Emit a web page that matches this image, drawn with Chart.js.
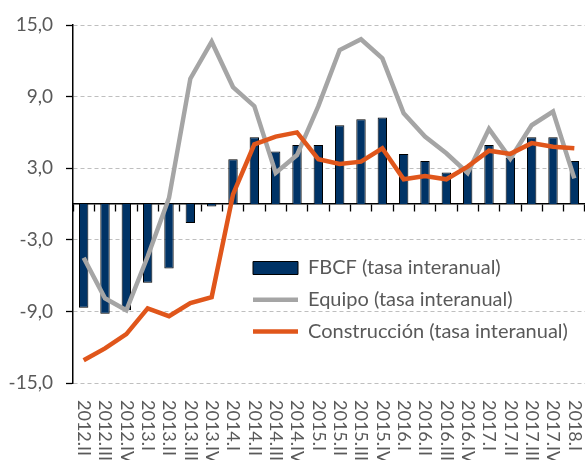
<!DOCTYPE html>
<html><head><meta charset="utf-8">
<script src="https://cdn.jsdelivr.net/npm/chart.js@4.4.0/dist/chart.umd.min.js"></script>
<style>html,body{margin:0;padding:0;background:#fff;overflow:hidden}#wrap{width:585px;height:460px}</style>
</head><body><div id="wrap"><canvas id="c" width="585" height="460"></canvas></div>
<script>
const categories = ['2012.II','2012.III','2012.IV','2013.I','2013.II','2013.III','2013.IV','2014.I','2014.II','2014.III','2014.IV','2015.I','2015.II','2015.III','2015.IV','2016.I','2016.II','2016.III','2016.IV','2017.I','2017.II','2017.III','2017.IV','2018.I'];
const fbcf = [-8.7,-9.2,-8.9,-6.6,-5.4,-1.6,-0.2,3.75,5.6,4.4,4.95,4.95,6.6,7.1,7.25,4.2,3.6,2.65,3.0,4.95,3.9,5.6,5.6,3.6];
const equipo = [-4.5,-7.9,-8.9,-4.4,0.5,10.5,13.6,9.8,8.2,2.6,4.1,8.2,12.9,13.8,12.2,7.6,5.65,4.25,2.6,6.3,3.8,6.6,7.75,2.15];
const construccion = [-13.1,-12.1,-10.9,-8.75,-9.4,-8.3,-7.8,0.8,5.0,5.65,6.0,3.75,3.36,3.55,4.67,2.07,2.35,2.07,3.13,4.47,4.2,5.1,4.8,4.67];
const yTicks = [-15,-9,-3,3,9,15];
const seriesNames = ['FBCF (tasa interanual)','Equipo (tasa interanual)','Construcción (tasa interanual)'];

const FONT = 'Lato, "Liberation Sans", sans-serif';
const TXT = '#595959';
const NAVY = '#003366', GREY = '#A5A5A5', ORANGE = '#E0561B';

const xLabelPlugin = {
  id: 'xLabels',
  afterDraw(chart) {
    const s = chart.scales.x, ctx = chart.ctx;
    ctx.save();
    ctx.font = '18px ' + FONT;
    ctx.fillStyle = TXT;
    ctx.textAlign = 'left';
    ctx.textBaseline = 'middle';
    const y0 = chart.chartArea.bottom + 17;
    categories.forEach((lab, i) => {
      ctx.save();
      ctx.translate(s.getPixelForValue(i), y0);
      ctx.rotate(Math.PI / 2);
      ctx.fillText(lab, 0, 0);
      ctx.restore();
    });
    ctx.restore();
  }
};

const legendPlace = {
  id: 'legendPlace',
  afterLayout(chart) {
    const lg = chart.legend;
    if (!lg) return;
    const pad = lg.options.labels.padding;
    lg.left = 253 - pad;
    lg.top = 258 - pad;
    lg.right = chart.width;
    lg.bottom = chart.height;
    lg.width = lg.right - lg.left;
    lg.height = lg.bottom - lg.top;
  }
};

new Chart(document.getElementById('c'), {
  type: 'bar',
  data: {
    labels: categories,
    datasets: [
      { type: 'bar', label: seriesNames[0], data: fbcf, backgroundColor: NAVY, borderColor: '#000', borderWidth: 1,
        barPercentage: 0.44, categoryPercentage: 1, order: 3, pointStyle: 'rect' },
      { type: 'line', label: seriesNames[1], data: equipo, borderColor: GREY, borderWidth: 4.5, pointRadius: 0,
        pointStyle: 'line', pointBorderColor: GREY, pointBackgroundColor: GREY, pointBorderWidth: 4.5, tension: 0, order: 2 },
      { type: 'line', label: seriesNames[2], data: construccion, borderColor: ORANGE, borderWidth: 4.5, pointRadius: 0,
        pointStyle: 'line', pointBorderColor: ORANGE, pointBackgroundColor: ORANGE, pointBorderWidth: 4.5, tension: 0, order: 1 }
    ]
  },
  options: {
    responsive: false,
    animation: false,
    devicePixelRatio: 1,
    layout: { padding: { top: 25, bottom: 77, left: 0, right: 0 } },
    plugins: {
      tooltip: { enabled: false },
      legend: {
        position: 'chartArea',
        align: 'start',
        labels: {
          usePointStyle: true,
          pointStyleWidth: 45,
          boxHeight: 13,
          padding: 11.7,
          color: TXT,
          font: { family: FONT, size: 20 },
          sort: (a, b) => a.datasetIndex - b.datasetIndex
        }
      }
    },
    scales: {
      x: {
        type: 'category',
        position: { y: 0 },
        offset: true,
        ticks: { display: false },
        grid: { offset: true, drawOnChartArea: false, drawTicks: true, tickLength: 7, tickColor: '#000', tickWidth: 1.3 },
        border: { color: '#000', width: 1.5 }
      },
      y: {
        min: -15, max: 15,
        afterBuildTicks: s => { s.ticks = yTicks.map(v => ({ value: v })); },
        afterFit: s => { s.width = 73; },
        ticks: {
          callback: v => v.toFixed(1).replace('.', ','),
          color: TXT, font: { family: FONT, size: 19 }, padding: 13
        },
        grid: { color: '#BFBFBF', lineWidth: 1, tickColor: '#000', tickLength: 7, tickWidth: 1.3 },
        border: { color: '#000', width: 1.5, dash: [4, 3] }
      }
    }
  },
  plugins: [xLabelPlugin, legendPlace]
});
</script>
</body></html>
